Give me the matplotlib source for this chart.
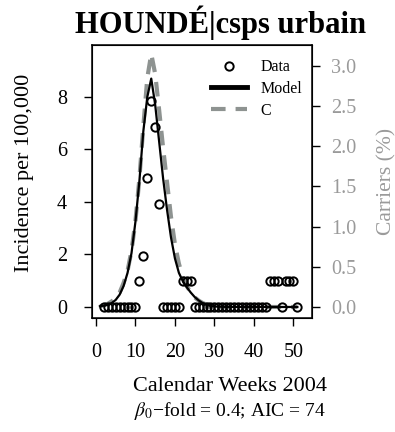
"""
Incidence vs model for one health centre, with carriers on a second axis
"""

import numpy as np
import matplotlib.pyplot as plt
from matplotlib.lines import Line2D

plt.rcParams['font.family'] = ['Liberation Serif', 'DejaVu Serif']
plt.rcParams['mathtext.fontset'] = 'stix'

# weeks of the data points (week 1 has no observation)
data_weeks = list(range(2, 52))
data_values = [0, 0, 0, 0, 0, 0, 0, 0, 0,            # weeks 2-10
               0.98, 1.96, 4.9, 7.84, 6.86, 3.92,     # weeks 11-16
               0, 0, 0, 0, 0,                         # weeks 17-21
               0.98, 0.98, 0.98,                      # weeks 22-24
               0, 0, 0, 0, 0, 0, 0, 0, 0, 0,          # weeks 25-34
               0, 0, 0, 0, 0, 0, 0, 0, 0,             # weeks 35-43
               0.98, 0.98, 0.98, 0,                   # weeks 44-47
               0.98, 0.98, 0.98, 0]                   # weeks 48-51

# model curve and carriers, weeks 1-51
model_weeks = list(range(1, 52))
model_values = [0.03, 0.05, 0.09, 0.15, 0.27, 0.47, 0.8, 1.3, 2.05, 3.25,
                4.8, 6.7, 8.0, 8.7, 7.7, 6.3, 4.9, 3.7, 2.65, 1.85,
                1.3, 0.98, 0.75, 0.55, 0.38, 0.25, 0.15, 0.08, 0.04, 0.02,
                0.01, 0.01, 0, 0, 0, 0, 0, 0, 0, 0,
                0, 0, 0, 0, 0, 0, 0, 0, 0, 0, 0]
carriers = [0.01, 0.02, 0.04, 0.07, 0.11, 0.18, 0.3, 0.45, 0.7, 1.07,
            1.6, 2.25, 2.85, 3.15, 2.9, 2.45, 1.98, 1.55, 1.12, 0.78,
            0.54, 0.37, 0.26, 0.18, 0.12, 0.08, 0.05, 0.03, 0.02, 0.01,
            0, 0, 0, 0, 0, 0, 0, 0, 0, 0,
            0, 0, 0, 0, 0, 0, 0, 0, 0, 0, 0]

title = "HOUNDÉ|csps urbain"
beta_fold = 0.4
aic = 74

gray_line = '#8e9391'
gray_text = '#9a9a9a'

fig = plt.figure(figsize=(3.95, 4.32), dpi=100)
ax = fig.add_axes([92 / 395, 1 - 318 / 432, 220 / 395, 273 / 432])

ax.plot(data_weeks, data_values, 'o', mfc='none', mec='black', ms=6.0, mew=1.4, zorder=3)
ax.plot(model_weeks, model_values, color='black', lw=1.6, zorder=2)

ax.set_xlim(-1.0, 54.7)
ax.set_ylim(-0.42, 9.98)
ax.set_xticks(range(0, 51, 10))
ax.set_yticks(range(0, 9, 2))
ax.tick_params(direction='out', length=6, width=1, labelsize=14.5)
ax.tick_params(axis='x', pad=12)
ax.tick_params(axis='y', pad=12)
for sp in ax.spines.values():
    sp.set_linewidth(1.1)

# carriers on the right axis
ax2 = ax.twinx()
ax2.plot(model_weeks, carriers, color=gray_line, lw=3, dashes=(3.5, 2.4), zorder=1)
ax2.set_ylim(-0.137, 3.26)
ax2.set_yticks(np.arange(0, 3.01, 0.5))
ax2.set_yticklabels(["%.1f" % t for t in np.arange(0, 3.01, 0.5)])
ax2.tick_params(direction='out', length=6, width=1, labelsize=14.5, pad=8, labelcolor=gray_text)
ax2.set_ylabel("Carriers (%)", fontsize=15.5, color=gray_text)
ax2.yaxis.set_label_coords(1.295, 0.5)

ax.set_zorder(ax2.get_zorder() + 1)
ax.patch.set_visible(False)

ax.set_ylabel("Incidence per 100,000", fontsize=16)
ax.yaxis.set_label_coords(-0.265, 0.53)

ax.text(0.627, -0.25, "Calendar Weeks 2004", transform=ax.transAxes,
        ha='center', va='center', fontsize=16)
ax.text(0.627, -0.34, r"$\beta_0$" + "\u2212fold = {}; AIC = {}".format(beta_fold, aic),
        transform=ax.transAxes, ha='center', va='center', fontsize=14)

ax.text(0.586, 1.08, title, transform=ax.transAxes, ha='center', va='center',
        fontsize=22, fontweight='bold')

# legend
handles = [Line2D([], [], ls='none', marker='o', mfc='none', mec='black', ms=6.0, mew=1.4),
           Line2D([], [], color='black', lw=3.5),
           Line2D([], [], color=gray_line, lw=3, dashes=(3.5, 2.4))]
ax.legend(handles, ["Data", "Model", "C"], loc='upper right', frameon=False,
          fontsize=11.5, handlelength=2.3, handletextpad=0.8, labelspacing=0.35,
          bbox_to_anchor=(1.02, 1.0))

fig.savefig("out.png", dpi=100)
